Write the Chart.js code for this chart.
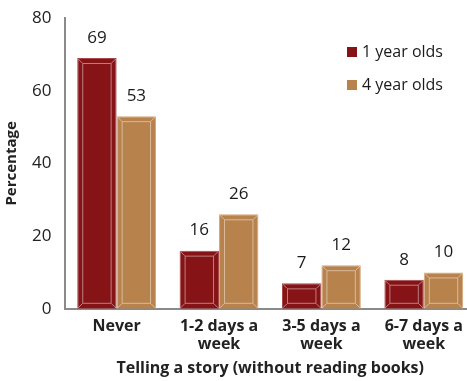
<!DOCTYPE html>
<html>
<head>
<meta charset="utf-8">
<script src="https://cdn.jsdelivr.net/npm/chart.js@4.4.1/dist/chart.umd.min.js"></script>
<style>
  html, body { margin: 0; padding: 0; background: #fff; overflow: hidden; }
  #wrap { position: absolute; left: 0; top: 0; width: 478px; height: 381px; }
</style>
</head>
<body>
<div id="wrap"><canvas id="chart" width="478" height="381"></canvas></div>
<script>
const categories = [['Never'], ['1-2 days a', 'week'], ['3-5 days a', 'week'], ['6-7 days a', 'week']];
const oneYear = [69, 16, 7, 8];
const fourYear = [53, 26, 12, 10];
const yTicks = [0, 20, 40, 60, 80];

const FONT = "'Open Sans', 'Noto Sans', sans-serif";

// bevel look + value labels above bars
const barExtras = {
  id: 'barExtras',
  afterDatasetsDraw(chart) {
    const c = chart.ctx;
    chart.data.datasets.forEach((ds, i) => {
      const meta = chart.getDatasetMeta(i);
      meta.data.forEach((bar, j) => {
        const p = bar.getProps(['x', 'y', 'base', 'width'], true);
        const l = p.x - p.width / 2, r = p.x + p.width / 2;
        const t = p.y, b = p.base;
        const ins = 5;
        c.save();
        c.strokeStyle = 'rgba(255,255,255,0.45)';
        c.lineWidth = 1;
        c.strokeRect(l + ins + 0.5, t + ins + 0.5, r - l - 2 * ins - 1, b - t - 2 * ins - 1);
        c.beginPath();
        c.moveTo(l + 1, t + 1); c.lineTo(l + ins, t + ins);
        c.moveTo(r - 1, t + 1); c.lineTo(r - ins, t + ins);
        c.moveTo(l + 1, b - 1); c.lineTo(l + ins, b - ins);
        c.moveTo(r - 1, b - 1); c.lineTo(r - ins, b - ins);
        c.stroke();
        c.fillStyle = '#1a1a1a';
        c.font = '17px ' + FONT;
        c.textAlign = 'center';
        c.textBaseline = 'middle';
        c.fillText(ds.data[j], p.x, t - 20);
        c.restore();
      });
    });
    // legend
    const items = chart.data.datasets;
    c.save();
    c.font = '16px ' + FONT;
    c.textBaseline = 'middle';
    c.textAlign = 'left';
    items.forEach((ds, i) => {
      const y = 52 + i * 33;
      c.fillStyle = ds.backgroundColor;
      c.fillRect(347, y - 5, 10, 10);
      c.fillStyle = '#1a1a1a';
      c.fillText(ds.label, 362, y);
    });
    c.restore();
  }
};

new Chart(document.getElementById('chart'), {
  type: 'bar',
  data: {
    labels: categories,
    datasets: [
      { label: '1 year olds', data: oneYear, backgroundColor: '#861417', borderColor: '#a5494a', borderWidth: 1 },
      { label: '4 year olds', data: fourYear, backgroundColor: '#b8824c', borderColor: '#d4a77a', borderWidth: 1 }
    ]
  },
  options: {
    responsive: false,
    animation: false,
    layout: { padding: { top: 18, right: 3, left: 3, bottom: 5 } },
    plugins: { legend: { display: false }, tooltip: { enabled: false } },
    datasets: { bar: { categoryPercentage: 0.77, barPercentage: 1 } },
    scales: {
      x: {
        grid: { display: false, drawTicks: false },
        border: { color: '#8a8a8a', width: 2 },
        ticks: { color: '#222', font: { family: FONT, size: 16, weight: 'bold', lineHeight: 1.1 }, padding: 9, maxRotation: 0, autoSkip: false },
        title: { display: true, text: 'Telling a story (without reading books)', color: '#222', font: { family: FONT, size: 16, weight: 'bold', lineHeight: 1 }, padding: { top: -2, bottom: 0 } }
      },
      y: {
        min: 0, max: 80,
        afterBuildTicks(s) { s.ticks = yTicks.map(v => ({ value: v })); },
        grid: { display: false, drawOnChartArea: false, drawTicks: true, tickLength: 7, tickColor: '#8a8a8a', tickWidth: 2 },
        border: { color: '#8a8a8a', width: 2 },
        ticks: { color: '#222', font: { family: FONT, size: 17 }, padding: 7 },
        title: { display: true, text: 'Percentage', color: '#222', font: { family: FONT, size: 15, weight: 'bold' }, padding: { top: 0, bottom: 4 } }
      }
    }
  },
  plugins: [barExtras]
});
</script>
</body>
</html>
